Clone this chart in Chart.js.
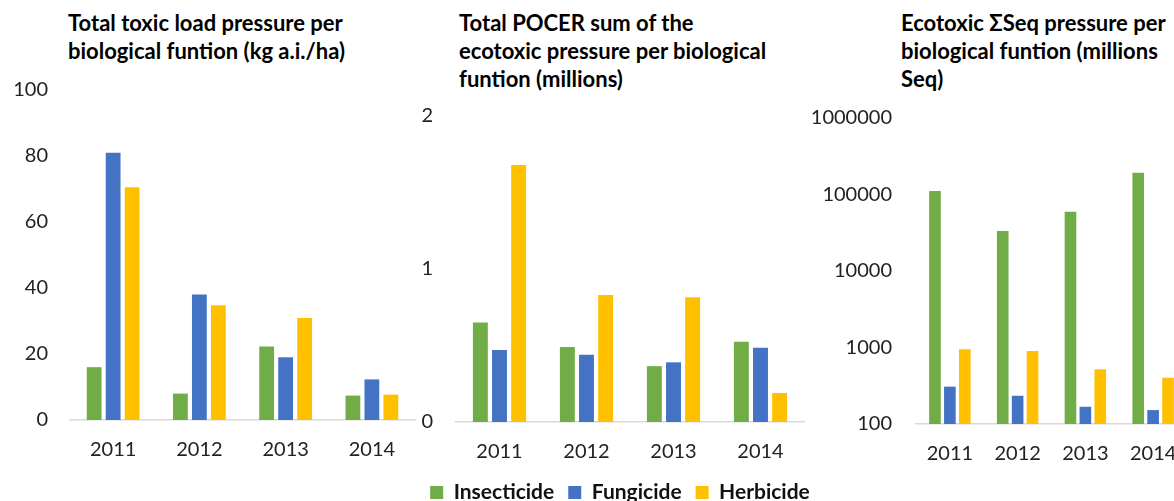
<!DOCTYPE html>
<html>
<head>
<meta charset="utf-8">
<script src="https://cdn.jsdelivr.net/npm/chart.js@4.4.1/dist/chart.umd.min.js"></script>
<style>
    html, body { margin: 0; padding: 0; background: #fff; overflow: hidden; width: 1174px; height: 501px; }
    canvas { position: absolute; top: 0; }
    .title { position: absolute; top: 9px; font-family: Lato, sans-serif; font-weight: bold; font-size: 22px; line-height: 28px; color: #000; white-space: nowrap; }
</style>
</head>
<body>
<div class="title" style="left:68px">Total toxic load pressure per<br>biological funtion (kg a.i./ha)</div>
<div class="title" style="left:459px">Total POCER sum of the<br>ecotoxic pressure per biological<br>funtion (millions)</div>
<div class="title" style="left:901px">Ecotoxic ΣSeq pressure per<br>biological funtion (millions<br>Seq)</div>
<canvas id="c1" width="420" height="501" style="left:0"></canvas>
<canvas id="c2" width="440" height="513" style="left:400px"></canvas>
<canvas id="c3" width="400" height="501" style="left:800px"></canvas>
<script>
(function () {
    "use strict";

    const years = ["2011", "2012", "2013", "2014"];
    const seriesNames = ["Insecticide", "Fungicide", "Herbicide"];

    // toxic load (kg a.i./ha)
    const loadInsecticide = [16.0, 8.0, 22.3, 7.4];
    const loadFungicide = [81.0, 38.0, 19.0, 12.3];
    const loadHerbicide = [70.5, 34.8, 30.9, 7.7];
    const loadTicks = [0, 20, 40, 60, 80, 100];

    // POCER sum (millions)
    const pocerInsecticide = [0.65, 0.49, 0.365, 0.525];
    const pocerFungicide = [0.47, 0.44, 0.39, 0.485];
    const pocerHerbicide = [1.68, 0.83, 0.815, 0.19];
    const pocerTicks = [0, 1, 2];

    // ΣSeq (millions Seq), log axis
    const seqInsecticide = [111000, 33400, 59600, 192800];
    const seqFungicide = [308, 234, 168, 152];
    const seqHerbicide = [946, 900, 519, 403];
    const seqTicks = [100, 1000, 10000, 100000, 1000000];

    const colors = ["#70AD47", "#4472C4", "#FFC000"];
    const font = "Lato";

    function datasets(values) {
        return values.map((v, i) => ({
            label: seriesNames[i],
            data: v,
            backgroundColor: colors[i],
            borderWidth: 0,
            categoryPercentage: 0.66,
            barPercentage: 0.78,
        }));
    }

    function makeChart(id, values, opt) {
        const ctx = document.getElementById(id).getContext("2d");
        const scales = {
            x: {
                grid: { display: false, drawTicks: false },
                border: { color: "#d9d9d9", width: 1.5 },
                ticks: { color: "#222", font: { family: font, size: 20 }, padding: 18 },
                afterFit: (s) => { s.height = opt.xHeight; },
            },
            y: {
                type: opt.type || "linear",
                min: opt.ticks[0],
                max: opt.ticks[opt.ticks.length - 1],
                grid: { display: false, drawTicks: false },
                border: { display: false },
                ticks: {
                    color: "#222",
                    font: { family: font, size: 20 },
                    padding: opt.yPad,
                    callback: (v) => String(v),
                },
                afterBuildTicks: (s) => { s.ticks = opt.ticks.map((v) => ({ value: v })); },
                afterFit: (s) => { s.width = opt.yWidth; },
            },
        };
        // empty spacer on the right so the legend can stay centred on the canvas
        if (opt.rightGap) {
            scales.spacer = {
                type: "linear",
                position: "right",
                grid: { display: false, drawTicks: false },
                border: { display: false },
                ticks: { display: false },
                afterFit: (s) => { s.width = opt.rightGap; },
            };
        }
        return new Chart(ctx, {
            type: "bar",
            data: { labels: years, datasets: datasets(values) },
            options: {
                responsive: false,
                animation: false,
                layout: { padding: opt.padding },
                plugins: {
                    title: { display: false },
                    tooltip: { enabled: false },
                    legend: {
                        display: !!opt.legend,
                        position: "bottom",
                        labels: {
                            color: "#111",
                            font: { family: font, size: 21, weight: "bold" },
                            boxWidth: 13,
                            boxHeight: 13,
                            padding: 14,
                        },
                    },
                },
                scales: scales,
            },
        });
    }

    makeChart("c1", [loadInsecticide, loadFungicide, loadHerbicide], {
        ticks: loadTicks,
        padding: { top: 90, right: 5, bottom: 0, left: 0 },
        xHeight: 81, yWidth: 70, yPad: 22,
    });

    makeChart("c2", [pocerInsecticide, pocerFungicide, pocerHerbicide], {
        ticks: pocerTicks,
        padding: { top: 116, right: 0, bottom: 0, left: 0 },
        xHeight: 46, yWidth: 56, yPad: 23, rightGap: 36,
        legend: true,
    });

    makeChart("c3", [seqInsecticide, seqFungicide, seqHerbicide], {
        type: "logarithmic",
        ticks: seqTicks,
        padding: { top: 118, right: 13, bottom: 0, left: 0 },
        xHeight: 77, yWidth: 116, yPad: 24,
    });
})();
</script>
</body>
</html>
